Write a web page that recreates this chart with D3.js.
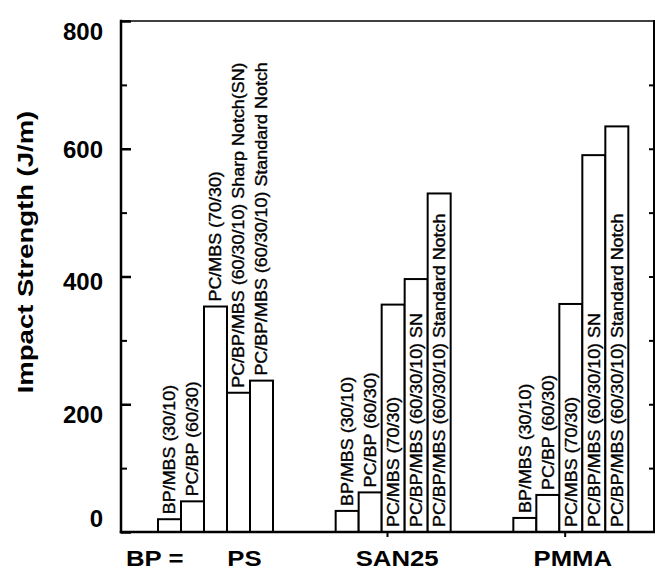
<!DOCTYPE html>
<html>
<head>
<meta charset="utf-8">
<script src="https://cdn.jsdelivr.net/npm/d3@7/dist/d3.min.js"></script>
<style>
	body { margin: 0; background: #fff; }
	text { font-family: "Liberation Sans", Arial, Helvetica, sans-serif; fill: #000; }
</style>
</head>
<body>
<script>
// chart data
var groups = ["PS", "SAN25", "PMMA"];
var labelsPS = ["BP/MBS (30/10)", "PC/BP (60/30)", "PC/MBS (70/30)",
	"PC/BP/MBS (60/30/10) Sharp Notch(SN)", "PC/BP/MBS (60/30/10) Standard Notch"];
var labelsSAN25 = ["BP/MBS (30/10)", "PC/BP (60/30)", "PC/MBS (70/30)",
	"PC/BP/MBS (60/30/10) SN", "PC/BP/MBS (60/30/10) Standard Notch"];
var labelsPMMA = ["BP/MBS (30/10)", "PC/BP (60/30)", "PC/MBS (70/30)",
	"PC/BP/MBS (60/30/10) SN", "PC/BP/MBS (60/30/10) Standard Notch"];
var valuesPS = [20, 48, 353, 218, 237];
var valuesSAN25 = [33, 62, 356, 396, 530];
var valuesPMMA = [22, 58, 357, 590, 635];
var yTicks = [0, 200, 400, 600, 800];
var yMinorTicks = [100, 300, 500, 700];
var rightTicks = [100, 200, 300, 400, 500, 600, 700];
// which labels sit inside their bar (from the bottom) instead of above it
var insidePS = [false, false, false, false, false];
var insideSAN25 = [false, false, true, true, true];
var insidePMMA = [false, false, true, true, true];

var groupLabels = {"PS": labelsPS, "SAN25": labelsSAN25, "PMMA": labelsPMMA};
var groupValues = {"PS": valuesPS, "SAN25": valuesSAN25, "PMMA": valuesPMMA};
var groupInside = {"PS": insidePS, "SAN25": insideSAN25, "PMMA": insidePMMA};

drawChart();

function drawChart(){
	// doc dimensions
	var width = 655;
	var height = 570;

	// plot frame
	var left = 121, right = 654, top = 21, bottom = 532;

	// hand placed nudges of the scanned labels
	var yLabelShift = [-14, 10, 5, 1, 10];
	var groupLabelShift = [29, 4, 2];

	var svg = d3.select("body").append("svg")
		.attr("width", width)
		.attr("height", height);

	var y = d3.scaleLinear().domain([0, 800]).range([bottom, top]);
	var x0 = d3.scaleBand().domain(groups).range([left, right]);
	var x1 = d3.scaleBand().domain(d3.range(5)).range([37, 152]);

	// bars + labels
	groups.forEach(function(g){
		var rows = groupValues[g].map(function(v, i){
			return {v: v, i: i, label: groupLabels[g][i], inside: groupInside[g][i]};
		});
		var gg = svg.append("g").attr("transform", "translate(" + x0(g) + ",0)");

		gg.selectAll("rect")
			.data(rows)
			.enter()
			.append("rect")
			.attr("x", function(d) {return x1(d.i);})
			.attr("y", function(d) {return y(d.v);})
			.attr("width", x1.bandwidth())
			.attr("height", function(d) {return y(0) - y(d.v);})
			.attr("fill", "white")
			.attr("stroke", "black")
			.attr("stroke-width", 2);

		gg.selectAll("text.bl")
			.data(rows)
			.enter()
			.append("text")
			.attr("class", "bl")
			.attr("transform", function(d){
				var cx = x1(d.i) + x1.bandwidth() / 2;
				var cy = d.inside ? y(0) - 5 : y(d.v) - 5;
				return "translate(" + cx + "," + cy + ") rotate(-90) scale(1.12,1)";
			})
			.attr("dy", "0.36em")
			.attr("font-size", 16)
			.attr("stroke", "black")
			.attr("stroke-width", 0.35)
			.text(function(d) {return d.label;});
	});

	// left axis with inward ticks
	svg.append("g")
		.attr("transform", "translate(" + left + ",0)")
		.call(d3.axisRight(y).tickValues(yTicks).tickSize(10).tickFormat(""))
		.call(function(a){ a.select(".domain").remove(); a.selectAll("line").attr("stroke-width", 2.5); });
	svg.append("g")
		.attr("transform", "translate(" + left + ",0)")
		.call(d3.axisRight(y).tickValues(yMinorTicks).tickSize(6).tickFormat(""))
		.call(function(a){ a.select(".domain").remove(); a.selectAll("line").attr("stroke-width", 2); });

	// right side ticks
	svg.append("g")
		.attr("transform", "translate(" + right + ",0)")
		.call(d3.axisLeft(y).tickValues(rightTicks).tickSize(5).tickFormat(""))
		.call(function(a){ a.select(".domain").remove(); a.selectAll("line").attr("stroke-width", 2); });

	// group separator ticks on the baseline
	svg.append("g")
		.attr("transform", "translate(0," + bottom + ")")
		.call(d3.axisBottom(x0).tickValues(groups.slice(1)).tickSize(5).tickFormat("")
			.offset(-x0.bandwidth() / 2))
		.call(function(a){ a.select(".domain").remove(); a.selectAll("line").attr("stroke-width", 2); });

	// frame lines
	var frame = [
		{"x1": left, "y1": top, "x2": left, "y2": bottom, "w": 2.5},
		{"x1": left, "y1": bottom, "x2": right, "y2": bottom, "w": 2.5},
		{"x1": right, "y1": top, "x2": right, "y2": bottom, "w": 2},
		{"x1": left, "y1": top, "x2": right, "y2": top, "w": 1.5}
	];
	svg.selectAll("line.frame")
		.data(frame)
		.enter()
		.append("line")
		.attr("class", "frame")
		.attr("x1", function(d) {return d.x1;})
		.attr("y1", function(d) {return d.y1;})
		.attr("x2", function(d) {return d.x2;})
		.attr("y2", function(d) {return d.y2;})
		.attr("stroke", "black")
		.attr("stroke-linecap", "square")
		.attr("stroke-width", function(d) {return d.w;});

	// y tick labels
	svg.selectAll("text.yl")
		.data(yTicks)
		.enter()
		.append("text")
		.attr("class", "yl")
		.attr("x", 103)
		.attr("y", function(d, i) {return y(d) + yLabelShift[i];})
		.attr("dy", "0.36em")
		.attr("text-anchor", "end")
		.attr("font-size", 24)
		.attr("font-weight", "bold")
		.text(function(d) {return d;});

	// y title
	svg.append("text")
		.attr("transform", "translate(25,252) rotate(-90) scale(1.25,1)")
		.attr("dy", "0.36em")
		.attr("text-anchor", "middle")
		.attr("font-size", 22)
		.attr("font-weight", "bold")
		.text("Impact Strength (J/m)");

	// group names under the plot
	svg.append("text")
		.attr("transform", "translate(126,566) scale(1.12,1)")
		.attr("font-size", 23)
		.attr("font-weight", "bold")
		.text("BP =");
	svg.selectAll("text.gl")
		.data(groups)
		.enter()
		.append("text")
		.attr("class", "gl")
		.attr("transform", function(d, i) {
			return "translate(" + (x0(d) + (37 + 152) / 2 + groupLabelShift[i]) + ",566) scale(1.12,1)";
		})
		.attr("text-anchor", "middle")
		.attr("font-size", 23)
		.attr("font-weight", "bold")
		.text(function(d) {return d;});
}
</script>
</body>
</html>
